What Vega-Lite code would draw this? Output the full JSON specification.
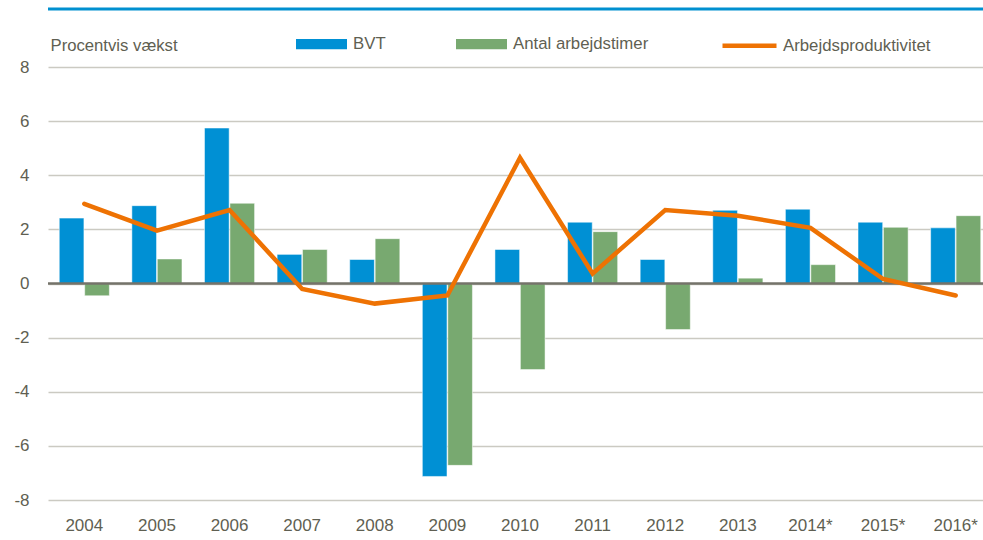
{
  "$schema": "https://vega.github.io/schema/vega-lite/v6.json",
  "width": 935,
  "height": 491,
  "autosize": {"type": "none"},
  "padding": {"left": 48, "top": 9, "right": 0, "bottom": 40},
  "background": "white",
  "config": {
    "font": "Liberation Sans",
    "view": {"stroke": null},
    "axis": {"labelColor": "#5f5f52", "titleColor": "#5f5f52", "labelFont": "Liberation Sans", "titleFont": "Liberation Sans"},
    "legend": {"labelColor": "#5f5f52", "labelFont": "Liberation Sans", "padding": 0}
  },
  "datasets": {
    "bars": [
      {"year": "2004", "series": "BVT", "value": 2.42},
      {"year": "2004", "series": "Antal arbejdstimer", "value": -0.45},
      {"year": "2005", "series": "BVT", "value": 2.88},
      {"year": "2005", "series": "Antal arbejdstimer", "value": 0.91},
      {"year": "2006", "series": "BVT", "value": 5.75},
      {"year": "2006", "series": "Antal arbejdstimer", "value": 2.97},
      {"year": "2007", "series": "BVT", "value": 1.08},
      {"year": "2007", "series": "Antal arbejdstimer", "value": 1.26},
      {"year": "2008", "series": "BVT", "value": 0.89},
      {"year": "2008", "series": "Antal arbejdstimer", "value": 1.66},
      {"year": "2009", "series": "BVT", "value": -7.13},
      {"year": "2009", "series": "Antal arbejdstimer", "value": -6.72},
      {"year": "2010", "series": "BVT", "value": 1.26},
      {"year": "2010", "series": "Antal arbejdstimer", "value": -3.18},
      {"year": "2011", "series": "BVT", "value": 2.27},
      {"year": "2011", "series": "Antal arbejdstimer", "value": 1.92},
      {"year": "2012", "series": "BVT", "value": 0.89},
      {"year": "2012", "series": "Antal arbejdstimer", "value": -1.70},
      {"year": "2013", "series": "BVT", "value": 2.71},
      {"year": "2013", "series": "Antal arbejdstimer", "value": 0.20},
      {"year": "2014*", "series": "BVT", "value": 2.75},
      {"year": "2014*", "series": "Antal arbejdstimer", "value": 0.70},
      {"year": "2015*", "series": "BVT", "value": 2.27},
      {"year": "2015*", "series": "Antal arbejdstimer", "value": 2.08},
      {"year": "2016*", "series": "BVT", "value": 2.06},
      {"year": "2016*", "series": "Antal arbejdstimer", "value": 2.51}
    ],
    "line": [
      {"year": "2004", "value": 2.95},
      {"year": "2005", "value": 1.96},
      {"year": "2006", "value": 2.72},
      {"year": "2007", "value": -0.2},
      {"year": "2008", "value": -0.74},
      {"year": "2009", "value": -0.44},
      {"year": "2010", "value": 4.65},
      {"year": "2011", "value": 0.37},
      {"year": "2012", "value": 2.72},
      {"year": "2013", "value": 2.51},
      {"year": "2014*", "value": 2.06},
      {"year": "2015*", "value": 0.17},
      {"year": "2016*", "value": -0.44}
    ]
  },
  "layer": [
    {
      "data": {"name": "bars"},
      "mark": {"type": "bar", "stroke": "white", "strokeOpacity": 0.5, "strokeWidth": 1},
      "encoding": {
        "x": {
          "field": "year", "type": "nominal", "sort": null,
          "scale": {"range": [0, 944], "paddingInner": 0.31, "paddingOuter": 0.155},
          "axis": {"title": null, "domain": false, "ticks": false, "labelAngle": 0, "labelFontSize": 17, "labelPadding": 17}
        },
        "y": {
          "field": "value", "type": "quantitative",
          "scale": {"domain": [-8, 10.15], "nice": false, "zero": false},
          "axis": {
            "values": [-8, -6, -4, -2, 0, 2, 4, 6, 8],
            "labelExpr": "replace(datum.label, '−', '-')",
            "title": "Procentvis vækst",
            "titleAngle": 0, "titleAlign": "left", "titleBaseline": "alphabetic",
            "titleX": 2, "titleY": 41, "titleFontSize": 16.7, "titleFontWeight": "normal",
            "domain": false, "ticks": false, "labelFontSize": 17, "labelPadding": 19,
            "gridColor": "#cbcac2", "gridWidth": 1.5
          }
        },
        "xOffset": {"field": "series", "type": "nominal", "sort": ["BVT", "Antal arbejdstimer"], "scale": {"paddingInner": 0.03}},
        "color": {
          "field": "series", "type": "nominal",
          "scale": {"domain": ["BVT", "Antal arbejdstimer"], "range": ["#0090d4", "#78a970"]},
          "legend": {
            "orient": "none", "legendX": 248, "legendY": 9.2, "direction": "horizontal",
            "title": null, "symbolType": "M-1,-0.2H1V0.2H-1Z", "symbolSize": 2601,
            "symbolStrokeWidth": 0, "symbolOpacity": 1, "labelOffset": 6, "columnPadding": 70,
            "labelFontSize": 16.8, "labelLimit": 300
          }
        }
      }
    },
    {
      "data": {"values": [{"v": 0}]},
      "mark": {"type": "rule", "color": "#74736a", "strokeWidth": 2.5},
      "encoding": {"y": {"datum": 0}}
    },
    {
      "data": {"values": [{"v": 10.15}]},
      "mark": {"type": "rule", "color": "#0090d0", "strokeWidth": 3},
      "encoding": {"y": {"datum": 10.15}}
    },
    {
      "data": {"name": "line"},
      "mark": {"type": "line", "strokeWidth": 4.5, "strokeCap": "round"},
      "encoding": {
        "x": {"field": "year", "type": "nominal", "sort": null},
        "y": {"field": "value", "type": "quantitative"},
        "stroke": {
          "datum": "Arbejdsproduktivitet",
          "scale": {"range": ["#ee7203"]},
          "legend": {
            "orient": "none", "legendX": 672, "legendY": 7.3, "title": null,
            "symbolType": "M-1,0H1", "symbolSize": 2916, "symbolStrokeWidth": 4.5,
            "labelOffset": 4, "labelFontSize": 16.8, "labelLimit": 300
          }
        }
      }
    }
  ]
}
